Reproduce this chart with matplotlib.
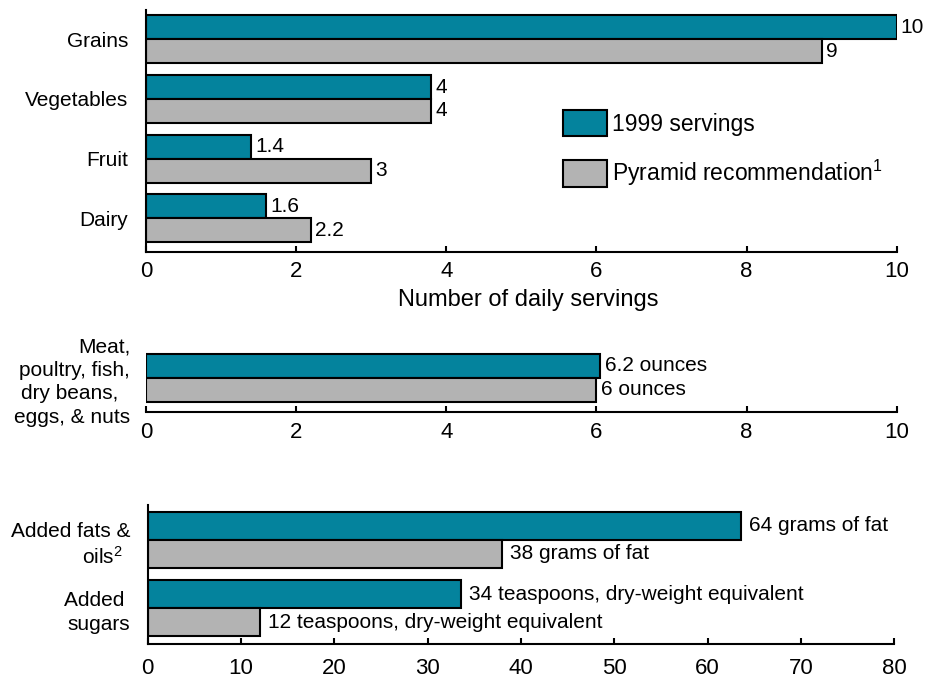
import matplotlib
matplotlib.use("Agg")
import matplotlib.pyplot as plt
from matplotlib.patches import Patch

plt.rcParams['font.family'] = ['Liberation Sans', 'DejaVu Sans']
plt.rcParams['mathtext.fontset'] = 'custom'
plt.rcParams['mathtext.rm'] = 'Liberation Sans'
plt.rcParams['mathtext.it'] = 'Liberation Sans'
plt.rcParams['mathtext.default'] = 'regular'

TEAL = '#04839d'
GRAY = '#b3b3b3'

# daily servings by food group
groups = ['Grains', 'Vegetables', 'Fruit', 'Dairy']
servings_1999 = [10.0, 3.8, 1.4, 1.6]
servings_rec = [9.0, 3.8, 3.0, 2.2]
labels_1999 = ['10', '4', '1.4', '1.6']
labels_rec = ['9', '4', '3', '2.2']

# meat group, ounces
meat_group = ['Meat,\npoultry, fish,\ndry beans,  \neggs, & nuts']
meat_1999 = [6.05]
meat_rec = [6.0]
meat_labels_1999 = ['6.2 ounces']
meat_labels_rec = ['6 ounces']

# added fats and sugars
extras = ['Added fats &\noils$^2$  ', 'Added \nsugars']
extras_1999 = [63.6, 33.6]
extras_rec = [38.0, 12.0]
extras_labels_1999 = ['64 grams of fat', '34 teaspoons, dry-weight equivalent']
extras_labels_rec = ['38 grams of fat', '12 teaspoons, dry-weight equivalent']

W, H = 933, 680


def px_axes(fig, x0, x1, top, bottom):
    # axes placed by pixel edges
    return fig.add_axes([x0 / W, 1 - bottom / H, (x1 - x0) / W, (bottom - top) / H])


def paired_bars(ax, names, v1, v2, lab1, lab2, h, gap, ypad):
    pos = list(range(len(names) - 1, -1, -1))
    ax.barh([p + h / 2 for p in pos], v1, height=h, color=TEAL,
            edgecolor='black', linewidth=1.5)
    ax.barh([p - h / 2 for p in pos], v2, height=h, color=GRAY,
            edgecolor='black', linewidth=1.5)
    for p, a, b, la, lb in zip(pos, v1, v2, lab1, lab2):
        ax.annotate(la, (a, p + h / 2), xytext=(gap, 0), textcoords='offset pixels',
                    va='center', ha='left', fontsize=15)
        ax.annotate(lb, (b, p - h / 2), xytext=(gap, 0), textcoords='offset pixels',
                    va='center', ha='left', fontsize=15)
    ax.set_yticks(pos)
    ax.set_yticklabels(names, fontsize=15, linespacing=1.3)
    ax.tick_params(axis='y', length=0, pad=ypad)
    ax.tick_params(axis='x', direction='in', length=4, width=1.5, labelsize=16, pad=7)
    for s in ['top', 'right']:
        ax.spines[s].set_visible(False)
    for s in ['left', 'bottom']:
        ax.spines[s].set_linewidth(1.5)


fig = plt.figure(figsize=(W / 100, H / 100), dpi=100)

# panel 1 - servings
ax1 = px_axes(fig, 146, 896.7, 10, 251.7)
paired_bars(ax1, groups, servings_1999, servings_rec, labels_1999, labels_rec, 0.4, 4, 13)
ax1.set_xlim(0, 10)
ax1.set_ylim(-0.559, 3.49)
ax1.set_xticks([0, 2, 4, 6, 8, 10])
ax1.set_xlabel('Number of daily servings', fontsize=17, labelpad=4)
ax1.xaxis.set_label_coords(0.5095, -0.155)

handles = [Patch(facecolor=TEAL, edgecolor='black', linewidth=1.5, label='1999 servings'),
           Patch(facecolor=GRAY, edgecolor='black', linewidth=1.5,
                 label='Pyramid recommendation$^1$')]
ax1.legend(handles=handles, loc='upper left', bbox_to_anchor=(563 / W, 1 - 110 / H),
           bbox_transform=fig.transFigure, frameon=False, fontsize=16.5,
           handlelength=1.92, handleheight=1.4, handletextpad=0.22,
           labelspacing=0.95, borderpad=0, borderaxespad=0)

# panel 2 - meat
ax2 = px_axes(fig, 146, 896.7, 345, 412)
paired_bars(ax2, meat_group, meat_1999, meat_rec, meat_labels_1999, meat_labels_rec, 0.4, 5, 11.5)
ax2.spines['left'].set_visible(False)
ax2.set_xlim(0, 10)
ax2.set_ylim(-0.575, 0.548)
ax2.set_xticks([0, 2, 4, 6, 8, 10])

# panel 3 - fats and sugars
ax3 = px_axes(fig, 147.7, 894.3, 505, 644)
paired_bars(ax3, extras, extras_1999, extras_rec, extras_labels_1999, extras_labels_rec, 0.41, 8, 12.7)
ax3.set_xlim(0, 80)
ax3.set_ylim(-0.523, 1.512)
ax3.set_xticks(range(0, 90, 10))
ax3.tick_params(axis='x', pad=10)

fig.savefig('out.png', dpi=100)
